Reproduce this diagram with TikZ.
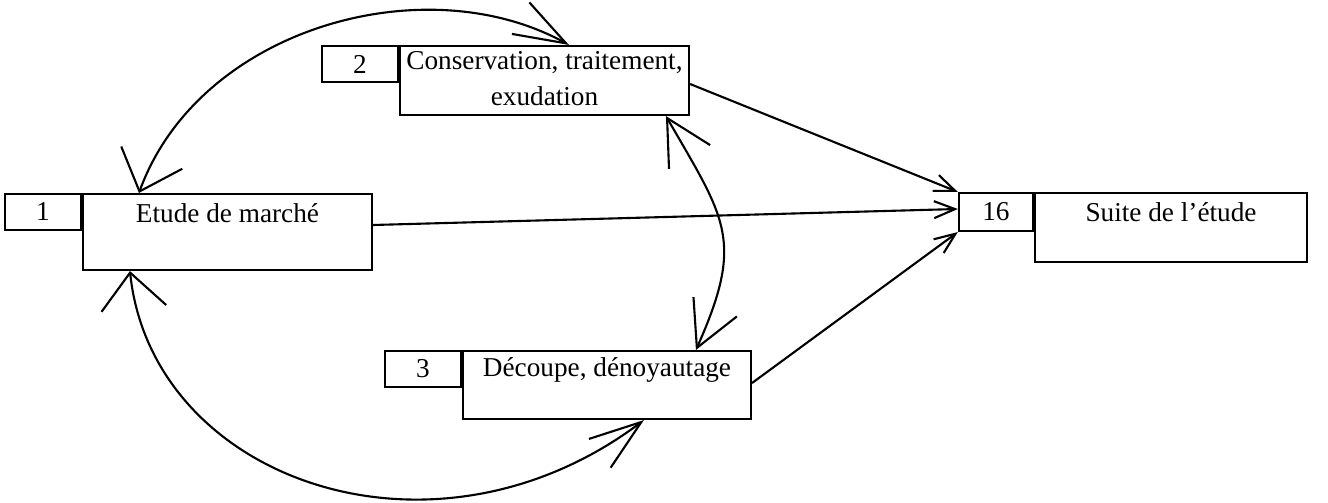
\documentclass[tikz,border=0pt]{standalone}
\usepackage{fontspec}
\setmainfont{Liberation Serif}
\usetikzlibrary{arrows.meta,positioning}

\tikzset{
  txt/.style={font=\fontsize{15.5}{20.5}\selectfont},
  stepbox/.style={draw, line width=1.2pt, minimum width=#1, inner sep=0pt},
  stepbox/.default=5.78cm,
  numtab/.style={draw, line width=1.2pt, minimum width=1.52cm, minimum height=0.72cm,
    inner sep=0pt, anchor=north east, txt},
  boxtext/.style={anchor=base, align=center, inner sep=0pt, label distance=0pt,
    yshift=-#1, txt},
  boxtext/.default=0.6cm,
  widebarb/.tip={Straight Barb[length=0.72cm, width=1.3cm]},
  midbarb/.tip={Straight Barb[length=0.9cm, width=0.95cm]},
  thinbarb/.tip={Straight Barb[length=1.04cm, width=0.72cm]},
  bigarrow/.style={line width=1.2pt},
  flowarrow/.style={-{Straight Barb[length=0.42cm, width=0.34cm]}, line width=1.2pt},
}

\begin{document}
\begin{tikzpicture}
\useasboundingbox (0,0) rectangle (26.56,10.04);

% boxes
\node[stepbox, minimum height=1.52cm, label={[boxtext]north:Etude de marché}] (m1) at (4.55,5.40) {};
\node[numtab] (t1) at (m1.north west) {1};

\node[stepbox, minimum height=1.38cm, label={[boxtext=1.22cm]north:Conservation, traitement,\\exudation}] (m2) at (10.89,8.43) {};
\node[numtab] (t2) at (m2.north west) {2};

\node[stepbox=5.76cm, minimum height=1.36cm, label={[boxtext=0.54cm]north:Découpe, dénoyautage}] (m3) at (12.14,2.34) {};
\node[numtab] (t3) at (m3.north west) {3};

\node[stepbox=5.44cm, minimum height=1.38cm, label={[boxtext=0.6cm]north:Suite de l’étude}] (m16) at (23.42,5.49) {};
\node[numtab, minimum width=1.48cm, minimum height=0.76cm] (t16) at (m16.north west) {16};

% straight links
\draw[flowarrow] ([yshift=0.14cm]m1.east) -- ([yshift=0.06cm]t16.west);
\draw[flowarrow] ([yshift=-0.07cm]m2.east) -- (t16.north west);
\draw[flowarrow] ([yshift=0.04cm]m3.east) -- (t16.south west);

% curved links
\draw[bigarrow, widebarb-thinbarb] ([xshift=1.14cm]m1.north west) to[out=70, in=151, out distance=3.5cm, in distance=3.3cm] ([xshift=3.4cm]m2.north west);
\draw[bigarrow, midbarb-midbarb] ([xshift=5.34cm]m2.south west) to[out=-60, in=66, out distance=2.4cm, in distance=2.4cm] ([xshift=4.68cm]m3.north west);
\draw[bigarrow, widebarb-thinbarb] ([xshift=0.96cm]m1.south west) to[out=-84, in=217, out distance=4.2cm, in distance=5.3cm] ([xshift=3.64cm]m3.south west);

\end{tikzpicture}
\end{document}
